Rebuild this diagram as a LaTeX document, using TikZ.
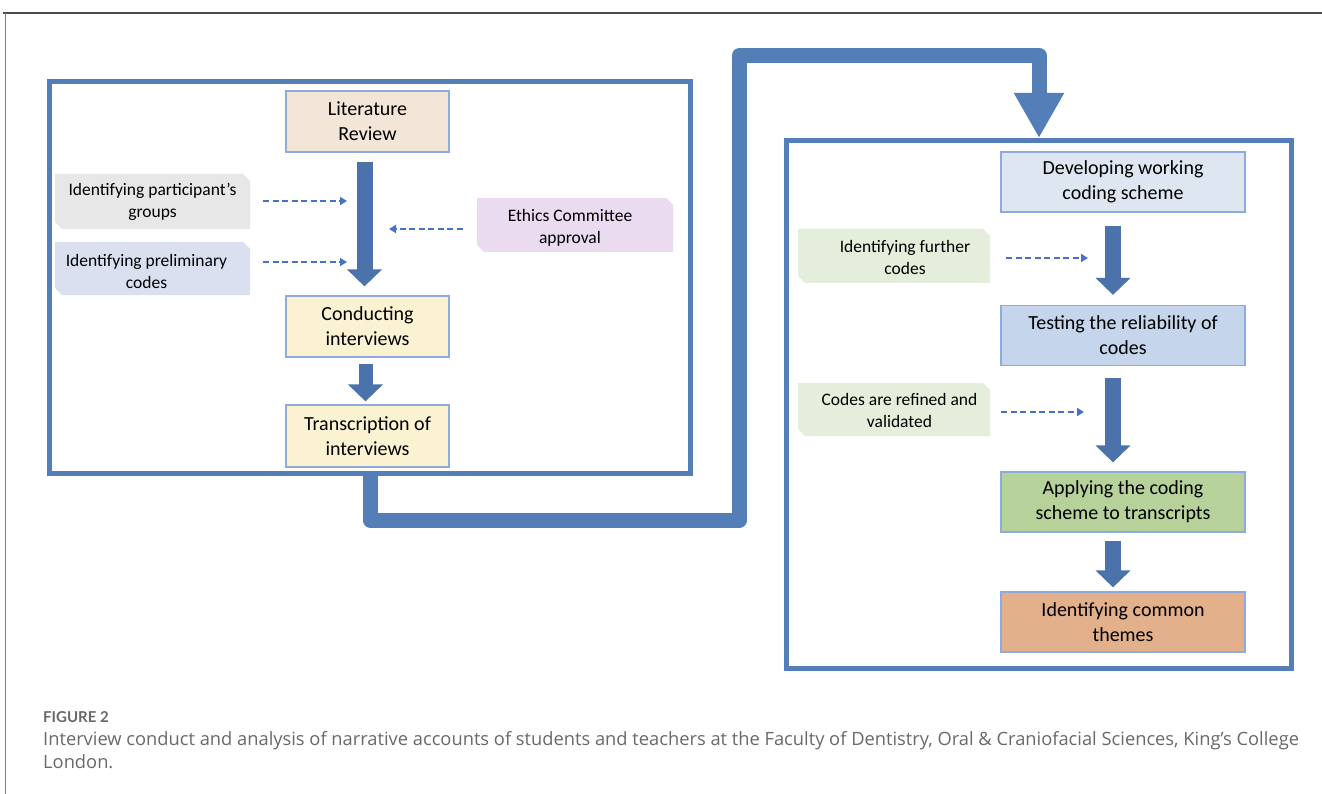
\documentclass[tikz,border=0pt]{standalone}
\usepackage{fontspec}
\setmainfont{Carlito}
\newfontfamily\capfont{Open Sans}
\newfontfamily\figfont{Lato}
\usetikzlibrary{arrows.meta,backgrounds}
\definecolor{frameblue}{RGB}{84,126,184}
\definecolor{blockblue}{RGB}{76,114,172}
\definecolor{dashblue}{RGB}{68,114,196}
\definecolor{boxborder}{RGB}{143,170,220}
\definecolor{litfill}{RGB}{243,229,216}
\definecolor{yelfill}{RGB}{251,242,210}
\definecolor{devfill}{RGB}{222,230,242}
\definecolor{testfill}{RGB}{197,213,235}
\definecolor{applyfill}{RGB}{183,209,155}
\definecolor{themefill}{RGB}{226,176,139}
\definecolor{graylab}{RGB}{231,231,231}
\definecolor{bluelab}{RGB}{218,224,239}
\definecolor{lilaclab}{RGB}{234,219,241}
\definecolor{greenlab}{RGB}{228,238,219}
\definecolor{captext}{RGB}{105,105,105}
\newcommand\snipfill[5]{\fill[#5] (#1,#2) -- ({#3-7},#2) -- (#3,{#2+7}) -- (#3,#4) -- ({#1+7},#4) -- (#1,{#4-7}) -- cycle;}
\begin{document}
\begin{tikzpicture}[x=1pt,y=-1pt,
  frame/.style={draw=frameblue, line width=5pt, inner sep=0pt},
  stepbox/.style={draw=boxborder, line width=1.2pt, align=center, font=\fontsize{20}{25}\selectfont, inner sep=0pt},
  leftbox/.style={stepbox, minimum width=163pt, minimum height=61pt},
  rightbox/.style={stepbox, minimum width=244pt, minimum height=60pt},
  lab/.style={align=center, font=\fontsize{17.5}{22}\selectfont, inner sep=0pt, minimum height=50pt},
  blockarrow/.style={draw=blockblue, line width=16pt, -{Triangle[width=34pt,length=17pt]}},
  dasharrow/.style={draw=dashblue, line width=2.2pt, dash pattern=on 6pt off 3.5pt, -{Triangle[width=8pt,length=7pt]}},
  bigconn/.style={draw=frameblue, line width=15pt, line join=round, -{Triangle[width=47pt,length=45pt]}},
  captxt/.style={anchor=base west, inner sep=0pt, text=captext}
]
\useasboundingbox (0,0) rectangle (1322,794);
\draw[black!70, line width=1.2pt] (3,13) -- (1322,13);
\draw[black!50, line width=1pt] (5,13) -- (5,794);

% frames
\node[frame, minimum width=641pt, minimum height=392pt] (L) at (370,277.5) {};
\node[frame, minimum width=505pt, minimum height=528pt] (R) at (1039,404.5) {};

% big connector
\coordinate (c1) at (739.5,520);
\coordinate (c2) at (739.5,55.5);
\draw[bigconn] (L.south) |- (c1) -- (c2) -| (R.north);

% step boxes
\node[leftbox, fill=litfill] (lit) at (367.5,121.5) {Literature\\Review};
\node[leftbox, fill=yelfill] (cond) at (367.5,326.5) {Conducting\\interviews};
\node[leftbox, fill=yelfill, minimum height=62pt] (trans) at (367.5,436) {Transcription of\\interviews};
\node[rightbox, fill=devfill] (dev) at (1123,182) {Developing working\\coding scheme};
\node[rightbox, fill=testfill] (test) at (1123,335.5) {Testing the reliability of\\codes};
\node[rightbox, fill=applyfill] (apply) at (1123,502) {Applying the coding\\scheme to transcripts};
\node[rightbox, fill=themefill] (theme) at (1123,622) {Identifying common\\themes};

% block arrows
\draw[blockarrow] ([xshift=-3pt,yshift=-9pt]lit.south) -- ([xshift=-3pt,yshift=9pt]cond.north);
\draw[blockarrow, line width=14pt] ([xshift=-2pt,yshift=-6pt]cond.south) -- ([xshift=-2pt,yshift=3pt]trans.north);
\draw[blockarrow] ([xshift=-10pt,yshift=-13pt]dev.south) -- ([xshift=-10pt,yshift=10pt]test.north);
\draw[blockarrow] ([xshift=-10pt,yshift=-12pt]test.south) -- ([xshift=-10pt,yshift=9pt]apply.north);
\draw[blockarrow] ([xshift=-10pt,yshift=-8pt]apply.south) -- ([xshift=-10pt,yshift=4pt]theme.north);

% side labels
\node[lab, minimum width=195pt] (lp) at (152.5,202) {Identifying participant’s\\groups};
\node[lab, minimum width=207pt] (lc) at (146.5,271) {Identifying preliminary\\codes};
\node[lab, minimum width=186pt] (le) at (570,228) {Ethics Committee\\approval};
\node[lab, minimum width=170pt] (lf) at (905,257) {Identifying further\\codes};
\node[lab, minimum width=181pt] (lv) at (899.5,410) {Codes are refined and\\validated};

\begin{scope}[on background layer]
\fill[white] (0,0) rectangle (1322,794);
\snipfill{55}{174}{250}{229}{graylab}
\snipfill{55}{242}{250}{295}{bluelab}
\snipfill{477}{198}{673}{252}{lilaclab}
\snipfill{798}{229}{990}{283}{greenlab}
\snipfill{798}{383}{990}{436}{greenlab}
\end{scope}

% dashed arrows
\coordinate (t1) at (347,201);
\coordinate (t2) at (347,262);
\coordinate (t3) at (389,229);
\coordinate (t4) at (1088,258);
\coordinate (t5) at (1084,412);
\draw[dasharrow, shorten <=13pt] (lp.east |- t1) -- (t1);
\draw[dasharrow, shorten <=13pt] (lc.east |- t2) -- (t2);
\draw[dasharrow, shorten <=14pt] (le.west |- t3) -- (t3);
\draw[dasharrow, shorten <=16pt] (lf.east |- t4) -- (t4);
\draw[dasharrow, shorten <=11pt] (lv.east |- t5) -- (t5);

% caption
\node[captxt, font=\figfont\bfseries\fontsize{15}{17}\selectfont] (fig) at (43,722) {FIGURE 2};
\node[captxt, font=\capfont\fontsize{18.3}{20}\selectfont] (cap1) at (43,745) {Interview conduct and analysis of narrative accounts of students and teachers at the Faculty of Dentistry, Oral \& Craniofacial Sciences, King’s College};
\node[captxt, font=\capfont\fontsize{18.3}{20}\selectfont] (cap2) at (43,768) {London.};
\end{tikzpicture}
\end{document}
